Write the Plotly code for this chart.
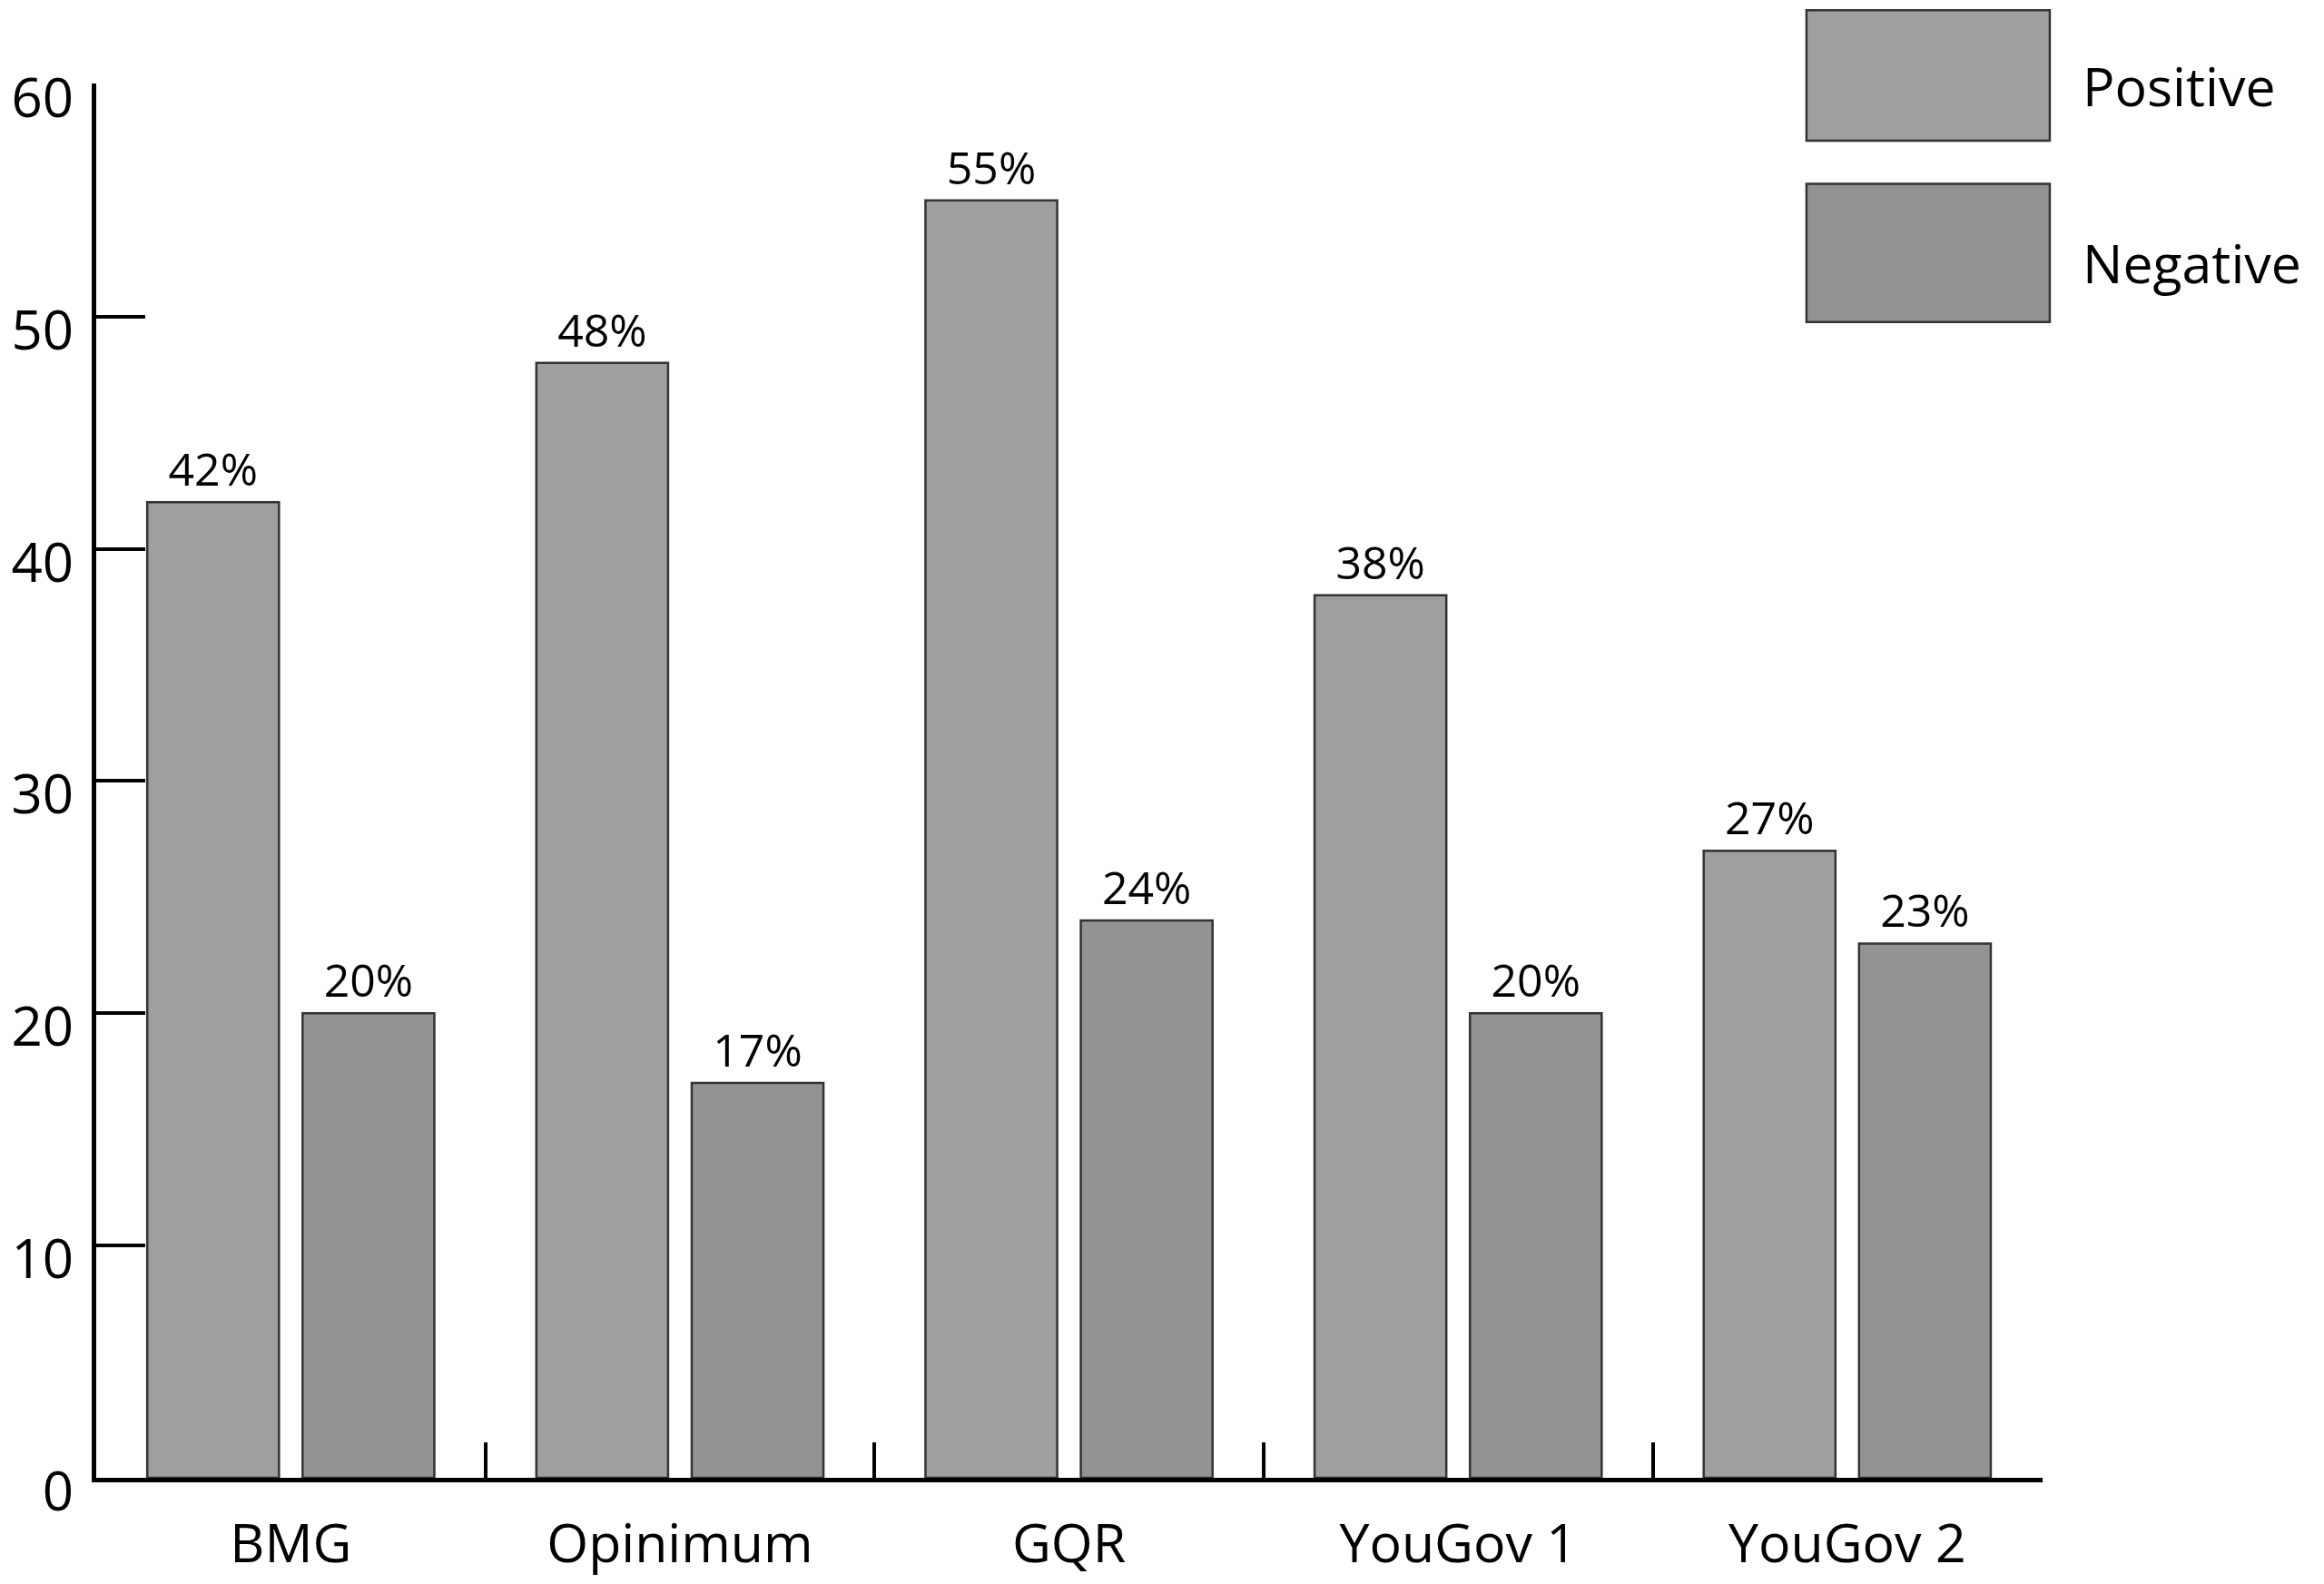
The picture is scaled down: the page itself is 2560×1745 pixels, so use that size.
import plotly.graph_objects as go

# --- data ---
pollsters = ["BMG", "Opinimum", "GQR", "YouGov 1", "YouGov 2"]
positive = [42, 48, 55, 38, 27]
negative = [20, 17, 24, 20, 23]
series_names = ["Positive", "Negative"]
series_colors = ["#9f9f9f", "#939393"]
y_ticks = [0, 10, 20, 30, 40, 50, 60]

FONT = "Open Sans, Liberation Sans, sans-serif"

fig = go.Figure()

for name, vals, col in zip(series_names, [positive, negative], series_colors):
    fig.add_trace(go.Bar(
        x=pollsters,
        y=vals,
        name=name,
        marker=dict(color=col, line=dict(color="#333333", width=2.5)),
        text=[f"{v}%" for v in vals],
        textposition="outside",
        textfont=dict(family=FONT, size=50, color="black"),
        cliponaxis=False,
        showlegend=False,
    ))

# hand-drawn style legend: big swatches to the top right
legend_boxes = [(1.0525, 0.959), (0.928, 0.829)]
legend_text_y = [0.999, 0.872]
for (y1, y0), ty, name, col in zip(legend_boxes, legend_text_y, series_names, series_colors):
    fig.add_shape(type="rect", xref="paper", yref="paper",
                  x0=0.8787, x1=1.0037, y0=y0, y1=y1,
                  fillcolor=col, line=dict(color="#333333", width=2.5))
    fig.add_annotation(xref="paper", yref="paper", x=1.0195, y=ty,
                       text=name, showarrow=False, xanchor="left", yanchor="middle",
                       font=dict(family=FONT, size=59, color="black"))

# the page body has an 8px margin, so the figure is a bit smaller than the window
fig.update_layout(
    barmode="group",
    bargap=0.2015,
    bargroupgap=0.152,
    width=2544,
    height=1729,
    margin=dict(l=98, r=302, t=84, b=109, autoexpand=False),
    paper_bgcolor="white",
    plot_bgcolor="white",
    font=dict(family=FONT, size=60, color="black"),
    xaxis=dict(
        range=[-0.5, 4.502],
        automargin=False,
        showline=True, linecolor="black", linewidth=5,
        ticks="inside", tickson="boundaries", ticklen=39, tickwidth=4, tickcolor="black",
        showgrid=False, zeroline=False,
        tickfont=dict(family=FONT, size=59, color="black"),
        ticklabelstandoff=17,
    ),
    yaxis=dict(
        range=[0, 60.03],
        automargin=False,
        tickvals=y_ticks,
        showline=True, linecolor="black", linewidth=5,
        ticks="inside", ticklen=54, tickwidth=4, tickcolor="black",
        showgrid=False, zeroline=False,
        tickfont=dict(family=FONT, size=60, color="black"),
        ticklabelstandoff=8,
        ticklabelshift=15,
    ),
)

fig.write_html("out.html")
